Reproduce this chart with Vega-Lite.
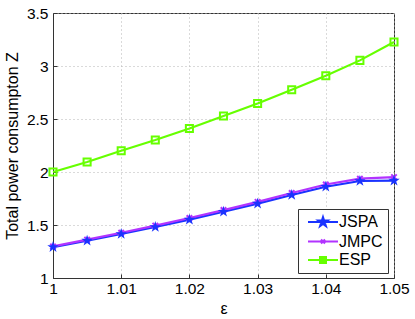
{
  "$schema": "https://vega.github.io/schema/vega-lite/v6.json",
  "width": 341,
  "height": 265,
  "autosize": {"type": "none"},
  "padding": {"left": 53, "top": 13, "right": 21, "bottom": 41},
  "background": "white",
  "config": {
    "font": "Liberation Sans",
    "view": {"stroke": "#333", "strokeWidth": 1},
    "axis": {
      "labelFont": "Liberation Sans",
      "titleFont": "Liberation Sans",
      "labelFontSize": 15.5,
      "titleFontSize": 16,
      "titleFontWeight": "normal",
      "labelColor": "black",
      "titleColor": "black",
      "domainColor": "#333",
      "tickColor": "#333",
      "gridColor": "#b5b5b5",
      "gridDash": [1, 3],
      "gridWidth": 1
    }
  },
  "data": {
    "values": [
      {"eps": 1.000, "series": "JSPA", "Z": 1.292},
      {"eps": 1.005, "series": "JSPA", "Z": 1.352},
      {"eps": 1.010, "series": "JSPA", "Z": 1.415},
      {"eps": 1.015, "series": "JSPA", "Z": 1.481},
      {"eps": 1.020, "series": "JSPA", "Z": 1.550},
      {"eps": 1.025, "series": "JSPA", "Z": 1.625},
      {"eps": 1.030, "series": "JSPA", "Z": 1.701},
      {"eps": 1.035, "series": "JSPA", "Z": 1.783},
      {"eps": 1.040, "series": "JSPA", "Z": 1.861},
      {"eps": 1.045, "series": "JSPA", "Z": 1.915},
      {"eps": 1.050, "series": "JSPA", "Z": 1.918},
      {"eps": 1.000, "series": "JMPC", "Z": 1.298},
      {"eps": 1.005, "series": "JMPC", "Z": 1.362},
      {"eps": 1.010, "series": "JMPC", "Z": 1.427},
      {"eps": 1.015, "series": "JMPC", "Z": 1.494},
      {"eps": 1.020, "series": "JMPC", "Z": 1.566},
      {"eps": 1.025, "series": "JMPC", "Z": 1.641},
      {"eps": 1.030, "series": "JMPC", "Z": 1.718},
      {"eps": 1.035, "series": "JMPC", "Z": 1.802},
      {"eps": 1.040, "series": "JMPC", "Z": 1.882},
      {"eps": 1.045, "series": "JMPC", "Z": 1.937},
      {"eps": 1.050, "series": "JMPC", "Z": 1.952},
      {"eps": 1.000, "series": "ESP", "Z": 2.000},
      {"eps": 1.005, "series": "ESP", "Z": 2.094},
      {"eps": 1.010, "series": "ESP", "Z": 2.201},
      {"eps": 1.015, "series": "ESP", "Z": 2.302},
      {"eps": 1.020, "series": "ESP", "Z": 2.411},
      {"eps": 1.025, "series": "ESP", "Z": 2.528},
      {"eps": 1.030, "series": "ESP", "Z": 2.647},
      {"eps": 1.035, "series": "ESP", "Z": 2.776},
      {"eps": 1.040, "series": "ESP", "Z": 2.908},
      {"eps": 1.045, "series": "ESP", "Z": 3.053},
      {"eps": 1.050, "series": "ESP", "Z": 3.226}
    ]
  },
  "encoding": {
    "x": {
      "field": "eps", "type": "quantitative",
      "scale": {"domain": [1, 1.05], "nice": false, "zero": false},
      "axis": {
        "title": "ε",
        "values": [1, 1.01, 1.02, 1.03, 1.04, 1.05],
        "format": "~g",
        "tickSize": -4,
        "labelPadding": 7,
        "titlePadding": 4,
        "labelFlush": false
      }
    },
    "y": {
      "field": "Z", "type": "quantitative",
      "scale": {"domain": [1, 3.5], "nice": false, "zero": false},
      "axis": {
        "title": "Total power consumpton Z",
        "values": [1, 1.5, 2, 2.5, 3, 3.5],
        "format": "~g",
        "tickSize": -4,
        "labelPadding": 9,
        "titlePadding": 6
      }
    },
    "color": {
      "field": "series", "type": "nominal",
      "scale": {"domain": ["JSPA", "JMPC", "ESP"], "range": ["#1a33ff", "#b233ff", "#66ff00"]},
      "legend": null
    }
  },
  "layer": [
    {
      "mark": {"type": "line", "strokeWidth": 2.2},
      "encoding": {
        "color": {
          "field": "series", "type": "nominal",
          "legend": {
            "title": null,
            "orient": "none",
            "legendX": 245,
            "legendY": 196,
            "strokeColor": "#333",
            "fillColor": "white",
            "padding": 5,
            "labelFont": "Liberation Sans",
            "labelFontSize": 16,
            "labelColor": "black",
            "labelExpr": "datum.label + '    '",
            "symbolSize": 100,
            "symbolStrokeWidth": 2,
            "symbolOffset": 0,
            "labelOffset": 20,
            "rowPadding": 2.5,
            "encode": {
              "symbols": {
                "update": {
                  "shape": {"signal": "datum.value === 'JSPA' ? 'M2.4,-1L2.625,-0.31L3.35,-0.31L2.765,0.117L2.988,0.81L2.4,0.383L1.812,0.81L2.035,0.117L1.45,-0.31L2.175,-0.31Z M-0.6,0H5.4' : (datum.value === 'JMPC' ? 'M2,-0.4L2.8,0.4M2,0.4L2.8,-0.4M-0.6,0H5.4' : 'M1.8,-0.6H3V0.6H1.8Z M-0.6,0H5.4')"},
                  "fill": {"scale": "color", "field": "value"},
                  "stroke": {"scale": "color", "field": "value"},
                  "strokeWidth": {"value": 2}
                }
              }
            }
          }
        }
      }
    },
    {
      "transform": [{"filter": "datum.series === 'ESP'"}],
      "mark": {"type": "point", "shape": "square", "filled": false, "size": 50, "strokeWidth": 2, "opacity": 1}
    },
    {
      "transform": [{"filter": "datum.series === 'JMPC'"}],
      "mark": {"type": "point", "shape": "M-1,-1L1,1M-1,1L1,-1", "filled": false, "size": 30, "strokeWidth": 2, "opacity": 1}
    },
    {
      "transform": [{"filter": "datum.series === 'JSPA'"}],
      "mark": {"type": "point", "shape": "M0,-1.2L0.27,-0.37L1.14,-0.37L0.44,0.14L0.71,0.97L0,0.46L-0.71,0.97L-0.44,0.14L-1.14,-0.37L-0.27,-0.37Z", "filled": true, "size": 100, "opacity": 1}
    }
  ]
}
